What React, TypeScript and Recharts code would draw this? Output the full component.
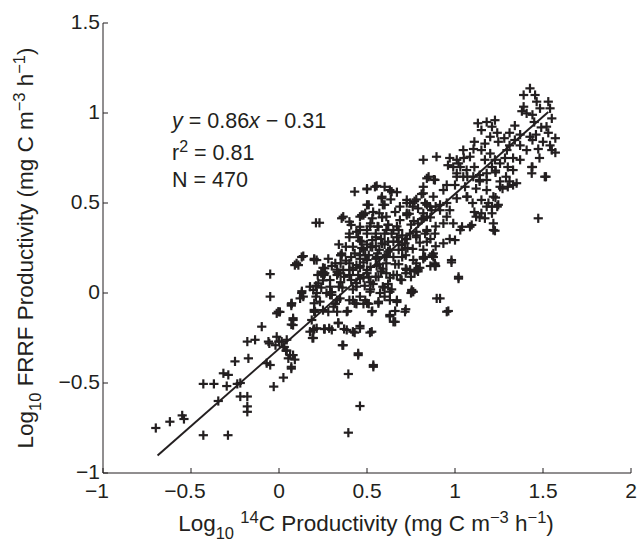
import { ReferenceLine, Scatter, ScatterChart, XAxis, YAxis } from "recharts"

const FONT = "'Liberation Sans', Arial, Helvetica, sans-serif"
const INK = "#231f20"
const TICK_FS = 21

const xTicks = [-1, -0.5, 0, 0.5, 1, 1.5, 2]
const yTicks = [-1, -0.5, 0, 0.5, 1, 1.5]

// [log10 14C productivity, log10 FRRF productivity]
const lowPoints: Array<[number, number]> = [
  [-0.7, -0.75], [-0.62, -0.715], [-0.55, -0.68], [-0.54, -0.7], [-0.43, -0.79], [-0.29, -0.79],
  [-0.43, -0.505], [-0.37, -0.505], [-0.345, -0.6], [-0.316, -0.446], [-0.288, -0.455], [-0.297, -0.517],
  [-0.25, -0.38], [-0.237, -0.505], [-0.22, -0.5], [-0.22, -0.575], [-0.18, -0.575], [-0.18, -0.63],
  [-0.18, -0.66], [-0.18, -0.27], [-0.136, -0.26], [-0.174, -0.363], [-0.098, -0.187], [-0.06, -0.27],
  [-0.055, -0.28], [-0.07, -0.39], [-0.05, -0.4], [-0.03, -0.52], [0.025, -0.47], [-0.013, -0.243],
  [0.015, -0.27], [0.044, -0.26], [0.03, -0.3], [0.044, -0.32], [0.053, -0.363], [0.08, -0.345],
  [0.07, -0.42], [-0.05, 0.105], [-0.05, -0.02], [-0.013, -0.113], [0.005, -0.105], [0.072, -0.057],
  [0.08, -0.14], [0.08, -0.178], [0.0, -0.27], [-0.02, -0.29], [0.025, -0.3], [0.04, -0.32],
  [0.063, -0.345], [0.09, -0.37], [0.07, -0.41], [0.07, -0.175], [0.08, -0.15], [0.07, -0.07],
  [-0.004, -0.104], [0.07, -0.06],
]

const midPoints: Array<[number, number]> = [
  [0.129, 0.0], [0.138, -0.02], [0.11, 0.155], [0.195, 0.017], [0.2, -0.057], [0.2, -0.094],
  [0.195, -0.205], [0.195, -0.25], [0.21, 0.04], [0.09, 0.155], [0.129, 0.2], [0.2, 0.183], [0.21, 0.39],
  [0.394, -0.776], [0.46, -0.628], [0.394, -0.45], [0.536, -0.41], [0.45, -0.345], [0.365, -0.29],
  [0.517, -0.22], [0.46, -0.183], [0.43, -0.22], [0.385, -0.205], [0.337, -0.165], [0.3, -0.205],
  [0.26, -0.2], [0.2, -0.2], [0.763, 0.007], [0.716, -0.104], [0.63, -0.122], [0.65, -0.16],
  [0.67, -0.04], [0.63, 0.007], [0.574, 0.0], [0.565, -0.057], [0.527, -0.104], [0.5, -0.057],
  [0.48, -0.06], [0.43, -0.057], [0.385, -0.104], [0.33, -0.104], [0.28, -0.104], [0.2, -0.104],
  [0.77, 0.12], [0.745, 0.128], [0.138, 0.205], [0.214, 0.183], [0.356, 0.21], [0.26, 0.137],
  [0.256, 0.1], [0.337, 0.11], [0.29, 0.072], [0.223, 0.054], [0.24, 0.03], [0.214, 0.0], [0.3, 0.005],
  [0.34, 0.035], [0.4, 0.128], [0.41, 0.072], [0.46, 0.08], [0.51, 0.09], [0.565, 0.09], [0.61, 0.11],
  [0.67, 0.1], [0.744, 0.128], [0.79, 0.12], [0.82, 0.2], [0.886, 0.155], [0.87, 0.21], [0.44, 0.035],
  [0.487, 0.04], [0.535, 0.05], [0.517, 0.007], [0.59, 0.035], [0.64, 0.02], [0.697, 0.072],
  [0.754, 0.007], [0.63, -0.04], [0.67, -0.05], [0.565, -0.048], [0.46, -0.02], [0.42, -0.04],
  [0.347, -0.03], [0.29, -0.01], [0.233, -0.048], [0.205, -0.104], [0.25, -0.095], [0.31, -0.076],
  [0.33, -0.04], [0.39, -0.1], [0.44, -0.06], [0.51, -0.06], [0.53, -0.1], [0.66, -0.1], [0.72, -0.09],
  [0.63, -0.13], [0.66, -0.16], [0.75, 0.0], [0.915, -0.03], [0.953, -0.104], [0.962, -0.1],
  [0.186, -0.15], [0.214, -0.196], [0.256, -0.2], [0.285, -0.196], [0.337, -0.168], [0.37, -0.2],
  [0.46, -0.196], [0.42, -0.215], [0.527, -0.215], [0.19, -0.25], [0.176, -0.215], [0.36, -0.29],
  [0.45, -0.335], [0.536, -0.4], [0.13, 0.01], [0.12, -0.03],
  [0.43, 0.563], [0.5, 0.576], [0.545, 0.59], [0.6, 0.59], [0.64, 0.563], [0.67, 0.56], [0.5, 0.49],
  [0.583, 0.526], [0.6, 0.49], [0.356, 0.415], [0.4, 0.396], [0.48, 0.433], [0.53, 0.415],
  [0.586, 0.42], [0.66, 0.45], [0.726, 0.517], [0.77, 0.51], [0.82, 0.554], [0.84, 0.637],
  [0.88, 0.63], [0.4, 0.31], [0.46, 0.35], [0.517, 0.37], [0.46, 0.29], [0.55, 0.33], [0.61, 0.35],
  [0.67, 0.37], [0.726, 0.433], [0.765, 0.4], [0.82, 0.415], [0.867, 0.46], [0.78, 0.34], [0.84, 0.35],
  [0.726, 0.3], [0.8, 0.28], [0.86, 0.3], [0.877, 0.22], [0.42, 0.257], [0.48, 0.24], [0.53, 0.255],
  [0.6, 0.27], [0.68, 0.24], [0.72, 0.21], [0.78, 0.165], [0.68, 0.16], [0.61, 0.21], [0.55, 0.19],
  [0.46, 0.19], [0.42, 0.128], [0.5, 0.128], [0.59, 0.135], [0.65, 0.1], [0.72, 0.11], [0.26, 0.11],
  [0.33, 0.1], [0.4, 0.165], [0.46, 0.15],
  [0.365, 0.424], [0.41, 0.378], [0.47, 0.433], [0.74, 0.44], [0.79, 0.47], [0.84, 0.49], [0.89, 0.48],
  [0.44, 0.34], [0.5, 0.35], [0.56, 0.37], [0.62, 0.38], [0.68, 0.35], [0.75, 0.38], [0.81, 0.41],
  [0.86, 0.42], [0.47, 0.285], [0.53, 0.294], [0.65, 0.285], [0.72, 0.3], [0.78, 0.32], [0.84, 0.345],
  [0.356, 0.22], [0.49, 0.21], [0.56, 0.22], [0.62, 0.23], [0.7, 0.24], [0.76, 0.245], [0.82, 0.24],
  [0.89, 0.26], [0.1, 0.165], [0.44, 0.155], [0.52, 0.145], [0.57, 0.16], [0.66, 0.16], [0.72, 0.135],
  [0.79, 0.13], [0.86, 0.15], [0.25, 0.118], [0.33, 0.118], [0.4, 0.1], [0.48, 0.085], [0.55, 0.09],
  [0.63, 0.085], [0.69, 0.075], [0.75, 0.09], [0.25, 0.07], [0.176, 0.035], [0.29, 0.035], [0.36, 0.03],
  [0.44, 0.055], [0.52, 0.02], [0.6, 0.03], [0.754, 0.017], [0.21, -0.02], [0.3, -0.01], [0.4, -0.04],
  [0.49, -0.04], [0.6, -0.02], [0.896, -0.03],
  [0.82, 0.59], [0.877, 0.535], [0.858, 0.48], [0.83, 0.5], [0.82, 0.443], [0.84, 0.424], [0.79, 0.387],
  [0.744, 0.33], [0.78, 0.31], [0.83, 0.33], [0.84, 0.285], [0.877, 0.2], [0.886, 0.165], [0.82, 0.19],
  [0.763, 0.183], [0.78, 0.128], [0.725, 0.128], [0.697, 0.267], [0.73, 0.25], [0.7, 0.32], [0.744, 0.5],
  [0.78, 0.52], [0.81, 0.55], [0.76, 0.48], [0.726, 0.443], [0.687, 0.405], [0.65, 0.35], [0.67, 0.31],
  [0.68, 0.285], [0.62, 0.285], [0.585, 0.275], [0.63, 0.24], [0.6, 0.2], [0.555, 0.2], [0.65, 0.2],
  [0.61, 0.165], [0.555, 0.15], [0.5, 0.183], [0.46, 0.14], [0.5, 0.11], [0.42, 0.14], [0.365, 0.128],
  [0.33, 0.13], [0.24, 0.11], [0.25, 0.14], [0.2, 0.19], [0.35, 0.21], [0.23, 0.39], [0.5, 0.58],
  [0.555, 0.595], [0.63, 0.572], [0.585, 0.535], [0.51, 0.49], [0.59, 0.49], [0.635, 0.52], [0.46, 0.424],
  [0.49, 0.443], [0.535, 0.45], [0.57, 0.443], [0.61, 0.424], [0.687, 0.48], [0.726, 0.5], [0.46, 0.368],
  [0.52, 0.387], [0.565, 0.368], [0.62, 0.378], [0.4, 0.33], [0.45, 0.31], [0.5, 0.33], [0.55, 0.31],
  [0.6, 0.33], [0.47, 0.25], [0.52, 0.257], [0.57, 0.24], [0.38, 0.257], [0.41, 0.2], [0.35, 0.165],
  [0.32, 0.165], [0.46, 0.21], [0.51, 0.21], [0.716, 0.276], [0.7, 0.2], [0.8, 0.14], [0.89, 0.15],
  [0.83, 0.2], [0.82, 0.74], [0.895, 0.757],
  [0.3, 0.15], [0.35, 0.06], [0.38, 0.18], [0.42, 0.02], [0.45, 0.1], [0.48, 0.17], [0.52, 0.06],
  [0.55, 0.26], [0.58, 0.12], [0.62, 0.05], [0.27, 0.0], [0.32, -0.06], [0.37, 0.09], [0.43, 0.22],
  [0.5, 0.27], [0.58, 0.3], [0.64, 0.33], [0.28, 0.19], [0.22, 0.1], [0.34, 0.27],
]

const highPoints: Array<[number, number]> = [
  [1.426, 1.137], [1.39, 1.1], [1.455, 1.1], [1.464, 1.063], [1.53, 1.063], [1.483, 1.026],
  [1.39, 1.035], [1.38, 1.01], [1.407, 0.998], [1.44, 0.99], [1.54, 1.026], [1.55, 0.97], [1.52, 0.924],
  [1.53, 0.89], [1.57, 0.86], [1.5, 0.84], [1.54, 0.82], [1.55, 0.794], [1.473, 0.8], [1.48, 0.75],
  [1.436, 0.7], [1.436, 0.665], [1.517, 0.646], [1.473, 0.415], [1.426, 0.868], [1.44, 0.85],
  [1.407, 0.794], [1.37, 0.82], [1.34, 0.85], [1.31, 0.82], [1.295, 0.794], [1.37, 0.74], [1.33, 0.75],
  [1.284, 0.75], [1.256, 0.72], [1.3, 0.7], [1.33, 0.683], [1.29, 0.646], [1.256, 0.62], [1.33, 0.6],
  [1.256, 0.59], [1.18, 0.95], [1.227, 0.96], [1.13, 0.943], [1.15, 0.905], [1.21, 0.924], [1.24, 0.89],
  [1.2, 0.868], [1.246, 0.84], [1.17, 0.83], [1.11, 0.84], [1.15, 0.794], [1.105, 0.8], [1.2, 0.775],
  [1.227, 0.74], [1.17, 0.74], [1.21, 0.7], [1.18, 0.665], [1.23, 0.67], [1.14, 0.655], [1.11, 0.7],
  [1.085, 0.757], [1.047, 0.794], [1.05, 0.75], [1.01, 0.74], [0.97, 0.75], [0.96, 0.71], [0.99, 0.7],
  [1.03, 0.7], [1.066, 0.683], [1.104, 0.646], [1.14, 0.628], [1.18, 0.628], [1.047, 0.646],
  [1.01, 0.646], [1.0, 0.6], [0.953, 0.6], [0.934, 0.572], [0.85, 0.646], [0.886, 0.628], [1.057, 0.59],
  [1.066, 0.535], [1.12, 0.58], [1.18, 0.572], [1.15, 0.517], [1.218, 0.535], [1.246, 0.49], [1.21, 0.48],
  [1.18, 0.48], [1.15, 0.443], [1.21, 0.443], [1.12, 0.424], [1.17, 0.415], [1.218, 0.387],
  [1.227, 0.346], [1.095, 0.378], [1.11, 0.45], [1.07, 0.535], [1.01, 0.526], [0.97, 0.46],
  [0.953, 0.424], [0.934, 0.387], [0.99, 0.387], [1.04, 0.368], [1.0, 0.294], [0.934, 0.276],
  [0.886, 0.33], [0.89, 0.37], [0.915, 0.46], [0.915, 0.49], [0.953, 0.5], [0.98, 0.183], [1.02, 0.09],
  [0.98, 0.17], [1.02, 0.08], [0.886, 0.15],
  [1.51, 0.646], [1.44, 0.7], [1.57, 0.78], [1.1, 0.5], [1.14, 0.42], [1.218, 0.35], [1.19, 0.5],
  [1.23, 0.53], [1.24, 0.48], [1.085, 0.368], [1.03, 0.35], [0.97, 0.3], [1.02, 0.72], [1.01, 0.665],
  [1.07, 0.646], [1.14, 0.62], [1.23, 0.68], [1.31, 0.62], [1.35, 0.61], [1.3, 0.59], [1.27, 0.58],
  [1.34, 0.93], [1.31, 0.89], [1.37, 0.88], [1.28, 0.86], [1.45, 0.95], [1.49, 0.92], [1.46, 0.88],
]

const fitLine = [
  { x: -0.69, y: -0.903 },
  { x: 1.53, y: 1.006 },
]

const toRows = (pts: Array<[number, number]>) => pts.map(([x, y]) => ({ x, y }))

function Plus(props: any) {
  const { cx, cy } = props
  if (cx == null || cy == null) return null
  const h = 4.6
  return (
    <g stroke={INK} strokeWidth={2.2}>
      <line x1={cx - h} y1={cy} x2={cx + h} y2={cy} />
      <line x1={cx} y1={cy - h} x2={cx} y2={cy + h} />
    </g>
  )
}

const fmt = (v: number) => String(Math.abs(v))
const numWidth = (s: string) =>
  s.split("").reduce((w, c) => w + (c === "." ? 0.278 : 0.556), 0) * TICK_FS

function XTick(props: any) {
  const { x, y, payload } = props
  const v: number = payload.value
  const s = fmt(v)
  return (
    <g>
      <line x1={x} y1={y} x2={x} y2={y - 5} stroke={INK} strokeWidth={1} />
      <text x={x} y={y + 25} textAnchor="middle" fontSize={TICK_FS} fontFamily={FONT} fill={INK}>
        {s}
      </text>
      {v < 0 && (
        <text x={x - numWidth(s) / 2} y={y + 25} textAnchor="end" fontSize={TICK_FS} fontFamily={FONT} fill={INK}>
          −
        </text>
      )}
    </g>
  )
}

function YTick(props: any) {
  const { x, y, payload } = props
  const v: number = payload.value
  return (
    <g>
      <line x1={x} y1={y} x2={x + 5} y2={y} stroke={INK} strokeWidth={1} />
      <text x={x - 3} y={y + 6} textAnchor="end" fontSize={TICK_FS} fontFamily={FONT} fill={INK}>
        {(v < 0 ? "−" : "") + fmt(v)}
      </text>
    </g>
  )
}

export default function App() {
  return (
    <div style={{ position: "absolute", left: 0, top: 0, width: 638, height: 542, background: "#fff" }}>
      <ScatterChart width={638} height={542} margin={{ top: 23, right: 7, bottom: 39, left: 43 }}>
        <XAxis
          type="number"
          dataKey="x"
          domain={[-1, 2]}
          ticks={xTicks}
          interval={0}
          height={30}
          tickSize={0}
          tickMargin={0}
          tickLine={false}
          tick={<XTick />}
          axisLine={{ stroke: INK, strokeWidth: 1 }}
          allowDataOverflow
        />
        <YAxis
          type="number"
          dataKey="y"
          domain={[-1, 1.5]}
          ticks={yTicks}
          interval={0}
          width={60}
          tickSize={0}
          tickMargin={0}
          tickLine={false}
          tick={<YTick />}
          axisLine={{ stroke: INK, strokeWidth: 1 }}
          allowDataOverflow
        />
        <Scatter data={toRows(lowPoints)} shape={<Plus />} isAnimationActive={false} />
        <Scatter data={toRows(midPoints)} shape={<Plus />} isAnimationActive={false} />
        <Scatter data={toRows(highPoints)} shape={<Plus />} isAnimationActive={false} />
        <ReferenceLine
          segment={fitLine}
          stroke={INK}
          strokeWidth={2}
          ifOverflow="visible"
        />
      </ScatterChart>
      <svg
        width={638}
        height={542}
        style={{ position: "absolute", left: 0, top: 0, pointerEvents: "none" }}
        fontFamily={FONT}
        fill={INK}
      >
        <text x={172} y={128} fontSize={21.5}>
          <tspan fontStyle="italic">y</tspan> = 0.86<tspan fontStyle="italic">x</tspan> − 0.31
        </text>
        <text x={172} y={160} fontSize={21.5}>
          r<tspan fontSize={16} dy={-8}>2</tspan>
          <tspan dy={8}> = 0.81</tspan>
        </text>
        <text x={172} y={187} fontSize={21.5}>
          N = 470
        </text>
        <text x={366} y={531} fontSize={22.5} textAnchor="middle">
          Log<tspan fontSize={16.5} dy={8}>10</tspan>
          <tspan dy={-8}> </tspan>
          <tspan fontSize={16.5} dy={-8}>14</tspan>
          <tspan dy={8}>C Productivity (mg C m</tspan>
          <tspan fontSize={16.5} dy={-8}>−3</tspan>
          <tspan dy={8}> h</tspan>
          <tspan fontSize={16.5} dy={-8}>−1</tspan>
          <tspan dy={8}>)</tspan>
        </text>
        <text x={33} y={248} fontSize={22.5} textAnchor="middle" transform="rotate(-90, 33, 248)">
          Log<tspan fontSize={16.5} dy={8}>10</tspan>
          <tspan dy={-8}> FRRF Productivity (mg C m</tspan>
          <tspan fontSize={16.5} dy={-8}>−3</tspan>
          <tspan dy={8}> h</tspan>
          <tspan fontSize={16.5} dy={-8}>−1</tspan>
          <tspan dy={8}>)</tspan>
        </text>
      </svg>
    </div>
  )
}
